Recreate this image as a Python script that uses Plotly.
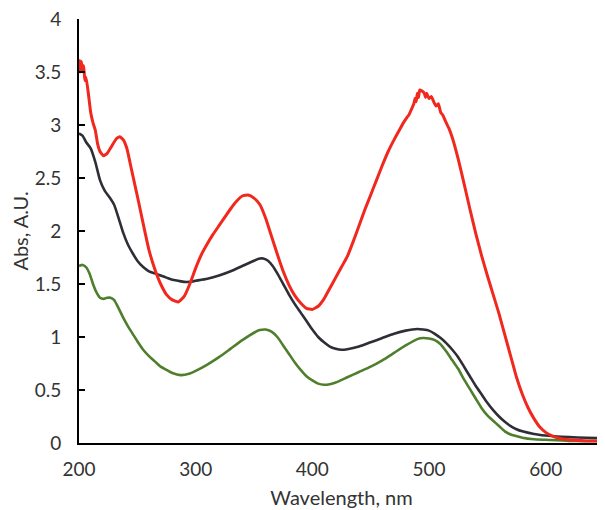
import plotly.graph_objects as go

# Red curve
red_x = [200, 201, 202, 203, 204, 205, 206, 208, 210, 212, 214, 216, 218, 221, 224, 228, 232, 235, 238, 241, 245,
         250, 255, 260, 265, 270, 275, 280, 285, 290, 295, 300, 305, 310, 315, 320, 325, 330, 335, 340, 345,
         350, 355, 360, 365, 370, 375, 380, 385, 390, 395, 400, 405, 410, 415, 420, 425, 430, 435, 440, 445,
         450, 455, 460, 465, 470, 475, 478, 481, 483, 485, 487, 488, 489, 490, 491, 492, 494, 496, 497, 498,
         500, 502, 504, 506, 508, 510, 512, 514, 517, 520, 525, 530, 535, 540, 545, 550, 555, 560, 565, 570,
         575, 580, 585, 590, 595, 600, 605, 610, 620, 635, 650]
red_y = [3.62, 3.50, 3.60, 3.52, 3.56, 3.42, 3.45, 3.30, 3.12, 3.02, 2.95, 2.82, 2.75, 2.71, 2.73, 2.80, 2.87, 2.89, 2.86, 2.78, 2.58,
         2.33, 2.07, 1.82, 1.64, 1.50, 1.40, 1.35, 1.33, 1.38, 1.50, 1.65, 1.78, 1.88, 1.97, 2.05, 2.13, 2.21, 2.28, 2.33, 2.34,
         2.31, 2.25, 2.12, 1.95, 1.78, 1.62, 1.49, 1.39, 1.32, 1.27, 1.26, 1.29, 1.36, 1.46, 1.56, 1.66, 1.76, 1.90, 2.05, 2.20,
         2.34, 2.48, 2.62, 2.75, 2.86, 2.96, 3.02, 3.07, 3.10, 3.15, 3.20, 3.25, 3.22, 3.30, 3.26, 3.33, 3.32, 3.30, 3.26, 3.30,
         3.25, 3.27, 3.22, 3.18, 3.20, 3.12, 3.09, 3.04, 2.97, 2.88, 2.68, 2.45, 2.21, 1.98, 1.77, 1.58, 1.40, 1.22, 1.02, 0.82,
         0.62, 0.46, 0.33, 0.23, 0.15, 0.10, 0.07, 0.05, 0.03, 0.02, 0.02]

# Black curve
black_x = [200, 203, 206, 210, 214, 218, 222, 226, 230, 234, 238, 242, 246, 250, 255, 260, 265, 270, 275, 280, 285,
           290, 295, 300, 310, 320, 330, 340, 350, 355, 358, 362, 366, 370, 375, 380, 385, 390, 395, 400, 405,
           410, 415, 420, 425, 430, 440, 450, 460, 470, 480, 490, 495, 500, 505, 510, 515, 520, 525, 530, 535,
           540, 545, 550, 555, 560, 565, 570, 575, 580, 590, 600, 610, 620, 635, 650]
black_y = [2.92, 2.90, 2.84, 2.78, 2.65, 2.48, 2.38, 2.32, 2.25, 2.12, 1.98, 1.87, 1.79, 1.72, 1.66, 1.62, 1.60, 1.58, 1.56, 1.54, 1.53,
           1.52, 1.52, 1.53, 1.55, 1.58, 1.62, 1.67, 1.72, 1.74, 1.74, 1.72, 1.67, 1.60, 1.50, 1.40, 1.31, 1.23, 1.15, 1.07, 1.00,
           0.95, 0.91, 0.89, 0.88, 0.885, 0.91, 0.95, 0.99, 1.03, 1.06, 1.075, 1.07, 1.06, 1.03, 0.99, 0.94, 0.88, 0.81, 0.72, 0.63,
           0.54, 0.46, 0.38, 0.31, 0.25, 0.20, 0.16, 0.13, 0.11, 0.085, 0.07, 0.06, 0.055, 0.05, 0.045]

# Green curve
green_x = [200, 203, 206, 209, 212, 215, 218, 221, 224, 227, 230, 234, 238, 242, 246, 250, 255, 260, 265, 270, 275,
           280, 287, 295, 300, 310, 320, 330, 340, 350, 355, 360, 365, 370, 375, 380, 385, 390, 395, 400, 405,
           410, 415, 420, 430, 440, 450, 460, 470, 480, 490, 495, 500, 505, 510, 515, 520, 525, 530, 535, 540,
           545, 550, 555, 560, 565, 570, 575, 580, 590, 600, 620, 650]
green_y = [1.67, 1.68, 1.66, 1.60, 1.50, 1.42, 1.37, 1.36, 1.37, 1.37, 1.35, 1.27, 1.18, 1.10, 1.03, 0.96, 0.88, 0.82, 0.77, 0.72, 0.69,
           0.66, 0.64, 0.655, 0.68, 0.74, 0.81, 0.89, 0.97, 1.04, 1.065, 1.07, 1.05, 1.00, 0.92, 0.84, 0.76, 0.69, 0.63, 0.59, 0.56,
           0.55, 0.555, 0.57, 0.62, 0.67, 0.72, 0.78, 0.85, 0.92, 0.98, 0.99, 0.985, 0.97, 0.93, 0.86, 0.78, 0.70, 0.60, 0.51, 0.42,
           0.33, 0.26, 0.21, 0.16, 0.11, 0.08, 0.065, 0.05, 0.035, 0.03, 0.02, 0.02]

y_ticks = [0, 0.5, 1, 1.5, 2, 2.5, 3, 3.5, 4]
y_tick_text = ["0", "0.5", "1", "1.5", "2", "2.5", "3", "3.5", "4"]
x_ticks = [200, 300, 400, 500, 600]

FONT = "Lato, 'Open Sans', sans-serif"

fig = go.Figure()
fig.add_trace(go.Scatter(x=green_x, y=green_y, mode="lines",
                         line=dict(color="#4F7F2C", width=2.6, shape="spline", smoothing=0.6)))
fig.add_trace(go.Scatter(x=black_x, y=black_y, mode="lines",
                         line=dict(color="#2E2F36", width=2.6, shape="spline", smoothing=0.6)))
fig.add_trace(go.Scatter(x=red_x, y=red_y, mode="lines",
                         line=dict(color="#F0281E", width=3, shape="spline", smoothing=0.4)))

# The page body has an 8px default margin, so the figure is sized to fill the rest of the window.
fig.update_layout(
    width=597, height=502,
    margin=dict(l=71, r=1, t=11, b=67),
    paper_bgcolor="white", plot_bgcolor="white",
    showlegend=False,
    font=dict(family=FONT, size=19, color="#333333"),
)
fig.update_xaxes(
    range=[200, 650], tickvals=x_ticks, showgrid=False, zeroline=False, automargin=False,
    showline=True, linecolor="black", linewidth=2, ticks="",
    ticklabelstandoff=8, ticklabeloverflow="allow",
    title=dict(text="Wavelength, nm", font=dict(family=FONT, size=20), standoff=12),
)
fig.update_yaxes(
    range=[0, 4], tickvals=y_ticks, ticktext=y_tick_text, showgrid=False, zeroline=False, automargin=False,
    showline=True, linecolor="black", linewidth=2, ticks="inside", ticklen=6, tickwidth=2,
    tickcolor="black", ticklabelstandoff=12, ticklabeloverflow="allow",
    title=dict(text="Abs, A.U.", font=dict(family=FONT, size=20), standoff=2),
)

fig.write_html("out.html")
